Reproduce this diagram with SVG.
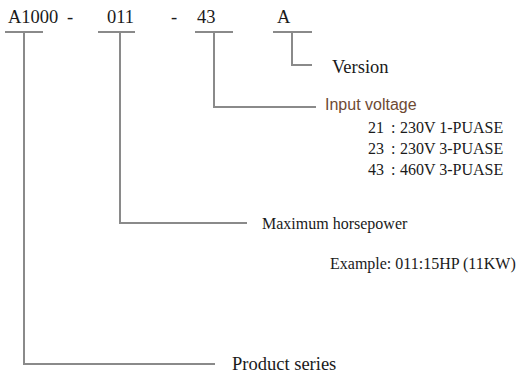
<svg xmlns="http://www.w3.org/2000/svg" width="524" height="373" viewBox="0 0 524 373">
<style>
.t{font-family:"Liberation Serif","Times New Roman",serif;fill:#1a1a1a}
.code{font-size:18.5px}
.lbl{font-size:18.5px}
.sm{font-size:16px}
.sans{font-family:"Liberation Sans",Arial,sans-serif;font-size:16px;fill:#6e4a33}
.ln{fill:none;stroke:#8a8a8a;stroke-width:2}
</style>
<rect width="524" height="373" fill="#ffffff"/>
<g id="code">
<text class="t code" x="8" y="23">A1000</text>
<text class="t code" x="67" y="23">-</text>
<text class="t code" x="107" y="23">011</text>
<text class="t code" x="171" y="23">-</text>
<text class="t code" x="197" y="23">43</text>
<text class="t code" x="277" y="23">A</text>
</g>
<g id="connectors">
<path class="ln" d="M5 32H43M24 32V364H215"/>
<path class="ln" d="M98 32H135M120 32V223H247"/>
<path class="ln" d="M195 32H233M214 32V107H316"/>
<path class="ln" d="M273 32H312M292 32V65H312"/>
</g>
<g id="version">
<text class="t lbl" x="332" y="73">Version</text>
</g>
<g id="input-voltage">
<text class="sans" x="325" y="110">Input voltage</text>
<text class="t sm" x="368" y="133">21<tspan x="391">:</tspan><tspan x="400">230V 1-PUASE</tspan></text>
<text class="t sm" x="368" y="154">23<tspan x="391">:</tspan><tspan x="400">230V 3-PUASE</tspan></text>
<text class="t sm" x="368" y="175">43<tspan x="391">:</tspan><tspan x="400">460V 3-PUASE</tspan></text>
</g>
<g id="horsepower">
<text class="t sm" x="262" y="229">Maximum horsepower</text>
<text class="t sm" x="330" y="269">Example: 011:15HP (11KW)</text>
</g>
<g id="product-series">
<text class="t lbl" x="232" y="370">Product series</text>
</g>
</svg>
